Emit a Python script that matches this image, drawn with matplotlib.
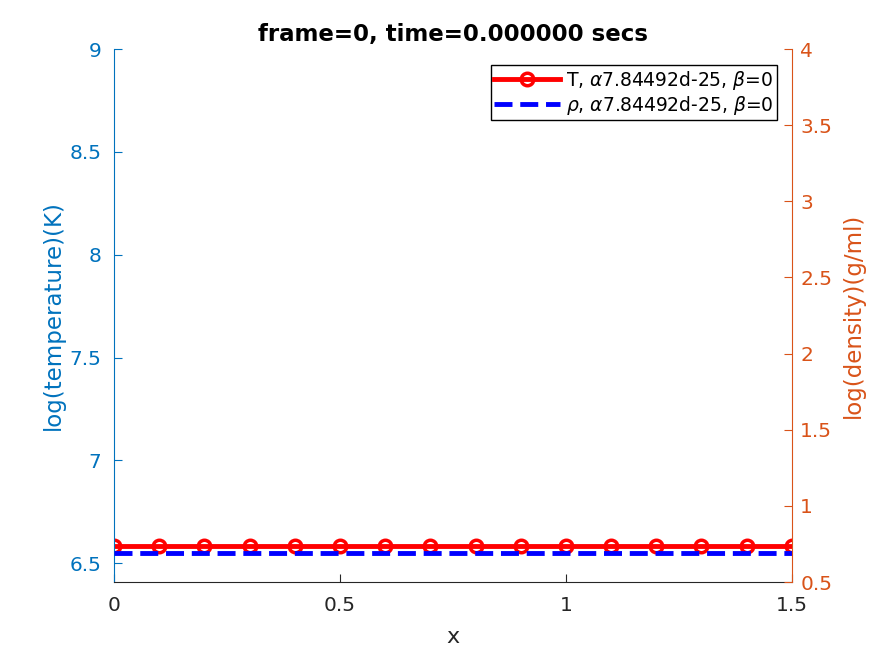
import numpy as np
import matplotlib.pyplot as plt

# data
x = [0, 0.1, 0.2, 0.3, 0.4, 0.5, 0.6, 0.7, 0.8, 0.9, 1.0, 1.1, 1.2, 1.3, 1.4, 1.5]
log_T = [6.585] * len(x)
log_rho = [0.69] * len(x)

blue = '#0072BD'
orange = '#D95319'
dark = '#262626'

fig = plt.figure(figsize=(8.75, 6.56), dpi=100)
ax = fig.add_axes([0.1303, 0.1128, 0.905 - 0.1303, 0.9253 - 0.1128])
ax2 = ax.twinx()

l1, = ax.plot(x, log_T, color='red', lw=3.5, marker='o', ms=9, mfc='none',
              mec='red', mew=2.5, label=r'T, $\alpha$7.84492d-25, $\beta$=0')
l2, = ax2.plot(x, log_rho, color='blue', lw=3.5, ls='--',
               label=r'$\rho$, $\alpha$7.84492d-25, $\beta$=0')

ax.set_xlim(0, 1.5)
ax.set_ylim(6.409, 9)
ax2.set_ylim(0.5, 4)
ax.set_xticks([0, 0.5, 1, 1.5])
ax.set_xticklabels(['0', '0.5', '1', '1.5'])
ax.set_yticks([6.5, 7, 7.5, 8, 8.5, 9])
ax.set_yticklabels(['6.5', '7', '7.5', '8', '8.5', '9'])
ax2.set_yticks([0.5, 1, 1.5, 2, 2.5, 3, 3.5, 4])
ax2.set_yticklabels(['0.5', '1', '1.5', '2', '2.5', '3', '3.5', '4'])

for a in (ax, ax2):
    a.spines['top'].set_visible(False)
ax.spines['left'].set_color(blue)
ax.spines['right'].set_visible(False)
ax2.spines['left'].set_visible(False)
ax2.spines['right'].set_color(orange)
ax.spines['bottom'].set_color(dark)
ax2.spines['bottom'].set_visible(False)

ax.tick_params(axis='y', colors=blue, direction='in', labelsize=14.5, length=6, pad=9)
ax.tick_params(axis='x', colors=dark, direction='in', labelsize=14.5, length=6, pad=10)
ax2.tick_params(axis='y', colors=orange, direction='in', labelsize=14.5, length=6, pad=6)

ax.set_xlabel('x', fontsize=16, color=dark, labelpad=9)
ax.set_ylabel('log(temperature)(K)', fontsize=16.5, color=blue, labelpad=3)
ax2.set_ylabel('log(density)(g/ml)', fontsize=16.5, color=orange, labelpad=7)
ax.set_title('frame=0, time=0.000000 secs', fontsize=16.5, fontweight='bold', pad=6)

leg = ax2.legend(handles=[l1, l2], loc='upper right', fontsize=13.5,
                 bbox_to_anchor=(1 - 15 / 678, 1 - 16 / 533),
                 fancybox=False, framealpha=1, edgecolor='black',
                 handlelength=3.5, borderaxespad=0, borderpad=0.2,
                 labelspacing=0.1, handletextpad=0.3)
leg.get_frame().set_linewidth(1.0)

plt.savefig('out.png', dpi=100)
